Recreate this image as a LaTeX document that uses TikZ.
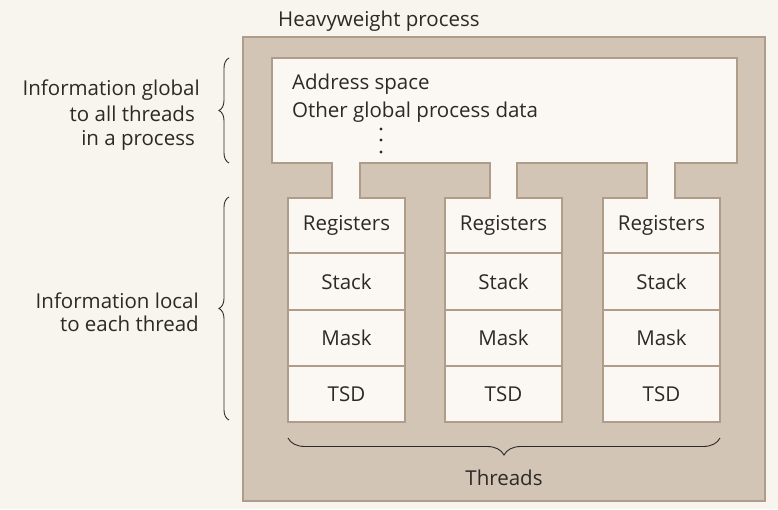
\documentclass[tikz,border=0pt]{standalone}
\usepackage{fontspec}
\setmainfont{Open Sans}
\usetikzlibrary{decorations.pathreplacing}
\definecolor{bg}{HTML}{F8F4EE}
\definecolor{pgray}{HTML}{D3C5B6}
\definecolor{edge}{HTML}{B09D89}
\definecolor{cellfill}{HTML}{FBF8F3}
\definecolor{ink}{HTML}{2E2926}
\tikzset{
  edgeline/.style={draw=edge, line width=1.5pt},
  cell/.style={minimum width=117pt, minimum height=56pt, inner sep=0pt, text=ink},
  lbl/.style={text=ink, inner sep=0pt},
  bracestyle/.style={draw=ink, line width=0.9pt, decorate},
}
\begin{document}
\begin{tikzpicture}[x=1pt,y=-1pt, font=\fontsize{20.5}{24}\selectfont]
\useasboundingbox (0,0) rectangle (778,509);
\fill[bg] (0,0) rectangle (778,509);
% outer process box
\path[edgeline, fill=pgray] (243,37) rectangle (765,501);
% white global area with necks and thread columns
\path[edgeline, fill=cellfill, line join=miter]
  (272,58) -- (737,58) -- (737,163) -- (675,163) -- (675,198) -- (720,198)
  -- (720,422) -- (603,422) -- (603,198) -- (647,198) -- (647,163)
  -- (517,163) -- (517,198) -- (562,198) -- (562,422) -- (445,422)
  -- (445,198) -- (490,198) -- (490,163) -- (360,163) -- (360,198)
  -- (405,198) -- (405,422) -- (288,422) -- (288,198) -- (332,198)
  -- (332,163) -- (272,163) -- cycle;
% labels
\node[lbl, anchor=base west] (hp) at (278,26) {Heavyweight process};
\node[lbl, anchor=base west] (as) at (292,89) {Address space};
\node[lbl, anchor=base west] (og) at (292,117) {Other global process data};
\fill[ink] (381,129) circle (1.6pt) (381,140) circle (1.6pt) (381,152) circle (1.6pt);
% thread cells
\foreach \c/\x in {1/346.5, 2/503.5, 3/661.5} {
  \node[cell] (reg\c) at (\x,225) {Registers};
  \node[cell] (stk\c) at (\x,282) {Stack};
  \node[cell] (msk\c) at (\x,338) {Mask};
  \node[cell] (tsd\c) at (\x,394) {TSD};
  \draw[edgeline] (\x-58.5,253) -- (\x+58.5,253);
  \draw[edgeline] (\x-58.5,310) -- (\x+58.5,310);
  \draw[edgeline] (\x-58.5,366) -- (\x+58.5,366);
}
% left labels
\node[lbl, anchor=base east] (g1) at (200,95) {Information global};
\node[lbl, anchor=base east] (g2) at (195,121) {to all threads};
\node[lbl, anchor=base east] (g3) at (195,145) {in a process};
\node[lbl, anchor=base east] (l1) at (199,308) {Information local};
\node[lbl, anchor=base east] (l2) at (199,331) {to each thread};
% braces
\coordinate (b1a) at (229,163);
\coordinate (b1b) at (229,58);
\coordinate (b2a) at (229,420);
\coordinate (b2b) at (229,197);
\draw[bracestyle, decoration={brace, amplitude=10pt}] (b1a) -- (b1b);
\draw[bracestyle, decoration={brace, amplitude=10pt}] (b2a) -- (b2b);
\coordinate (b3a) at (720,438);
\coordinate (b3b) at (288,438);
\draw[bracestyle, decoration={brace, amplitude=17pt}] (b3a) -- (b3b);
\node[lbl] (thr) at (504,478) {Threads};
\end{tikzpicture}
\end{document}
